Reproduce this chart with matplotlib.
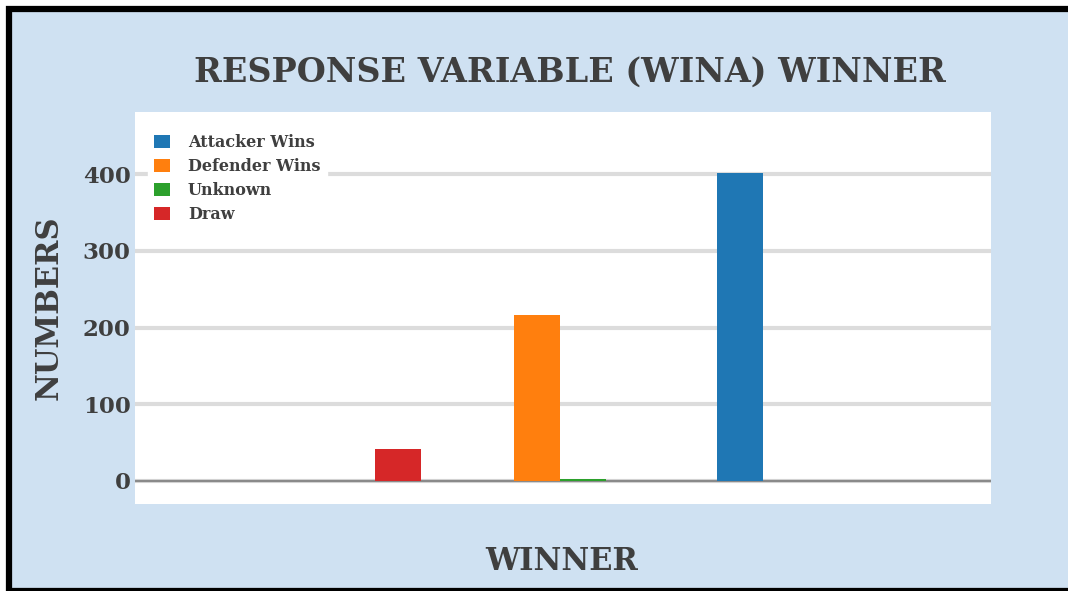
import numpy as np
import matplotlib
matplotlib.use("Agg")
import matplotlib.pyplot as plt
from matplotlib.patches import Rectangle

# Series (legend order) and the counts
winners = ["Attacker Wins", "Defender Wins", "Unknown", "Draw"]
counts = [402, 217, 2, 42]
# x value of each trace on the (hidden) numeric x axis
winner_x = [2.92, 1.84, 1.84, 0.84]
colors = ["#1f77b4", "#ff7f0e", "#2ca02c", "#d62728"]
yticks = [0, 100, 200, 300, 400]

FONT = "DejaVu Serif"
TXT = "#3f3f3f"
BG = "#cfe1f2"

fig = plt.figure(figsize=(10.68, 5.91), dpi=100)
fig.patch.set_facecolor("white")

# light blue card with a black frame (right side runs off the image)
frame = Rectangle((9 / 1068, 0.0), 1.2, 582 / 591, transform=fig.transFigure,
                  facecolor=BG, edgecolor="black", linewidth=4.5, zorder=-5)
fig.patches.append(frame)

ax = fig.add_axes([135 / 1068, 87 / 591, 856 / 1068, 392 / 591])
ax.set_zorder(2)
ax.set_facecolor("white")

# grouped bars: 4 slots around each x value
n = len(winners)
slot = 0.2
for i, (name, val, xv, c) in enumerate(zip(winners, counts, winner_x, colors)):
    off = (i - (n - 1) / 2) * slot
    ax.bar(xv + off, val, width=slot, color=c, label=name, zorder=3)

ax.set_xlim(0, 3.705)
ax.set_ylim(-30, 481)
ax.set_yticks(yticks)
ax.set_xticks([])
ax.yaxis.grid(True, color="#dcdcdc", linewidth=3, zorder=1)
ax.axhline(0, color="#8a8a8a", linewidth=1.6, zorder=2)
ax.set_axisbelow(True)
for s in ax.spines.values():
    s.set_visible(False)
ax.tick_params(axis="y", length=0, pad=3)
for lab in ax.get_yticklabels():
    lab.set_fontfamily(FONT)
    lab.set_fontweight("bold")
    lab.set_fontsize(16.5)
    lab.set_color(TXT)

leg = ax.legend(loc="upper left", bbox_to_anchor=(0.015, 0.96), frameon=True,
                prop={"family": FONT, "weight": "bold", "size": 11.5},
                handlelength=1.0, handleheight=0.85, handletextpad=1.1,
                labelspacing=0.43, borderpad=0.4, borderaxespad=0)
leg.get_frame().set_facecolor("white")
leg.get_frame().set_edgecolor("white")
leg.get_frame().set_alpha(1)
leg.set_zorder(5)
for t in leg.get_texts():
    t.set_color(TXT)

fig.text(570 / 1068, 1 - 72 / 591, "RESPONSE VARIABLE (WINA) WINNER",
         ha="center", va="center", fontfamily=FONT, fontweight="bold",
         fontsize=24, color=TXT)
fig.text(562 / 1068, 1 - 562 / 591, "WINNER", ha="center", va="center",
         fontfamily=FONT, fontweight="bold", fontsize=22, color=TXT)
fig.text(49 / 1068, 1 - 308 / 591, "NUMBERS", ha="center", va="center",
         rotation=90, fontfamily=FONT, fontweight="bold", fontsize=22, color=TXT)

fig.savefig("out.png", dpi=100, facecolor=fig.get_facecolor())
